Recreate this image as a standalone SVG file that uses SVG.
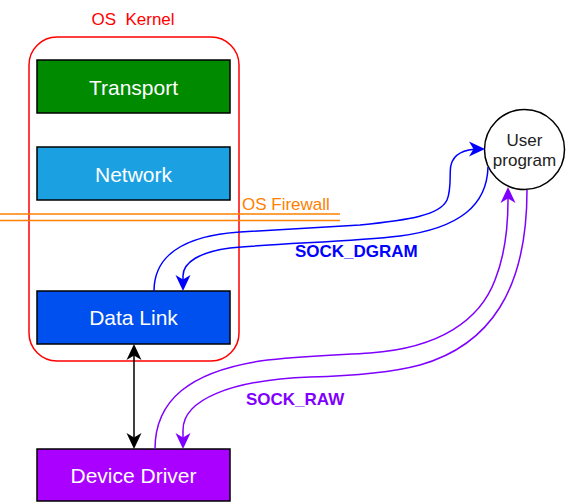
<svg xmlns="http://www.w3.org/2000/svg" width="567" height="503" viewBox="0 0 567 503">
<defs>
<style>
.box{stroke:#000;stroke-width:1.5}
.lbl{font-family:"Liberation Sans",Arial,sans-serif;font-size:21px;fill:#fff;text-anchor:middle}
.txt{font-family:"Liberation Sans",Arial,sans-serif;font-size:17px}
.bold{font-weight:bold}
.edge{fill:none;stroke-width:1.5}
</style>
<marker id="mk" viewBox="0 0 16 16" refX="11" refY="8" markerWidth="16" markerHeight="16" markerUnits="userSpaceOnUse" orient="auto-start-reverse"><path d="M16,8 L0,0.5 L4.5,8 L0,15.5 Z" fill="#000"/></marker>
<marker id="mb" viewBox="0 0 16 16" refX="11" refY="8" markerWidth="16" markerHeight="16" markerUnits="userSpaceOnUse" orient="auto"><path d="M16,8 L0,0.5 L4.5,8 L0,15.5 Z" fill="#0000FF"/></marker>
<marker id="mp" viewBox="0 0 16 16" refX="11" refY="8" markerWidth="16" markerHeight="16" markerUnits="userSpaceOnUse" orient="auto"><path d="M16,8 L0,0.5 L4.5,8 L0,15.5 Z" fill="#7F00FF"/></marker>
</defs>
<rect width="567" height="503" fill="#fff"/>

<g id="kernel">
<rect x="29" y="37" width="210" height="324" rx="28" ry="28" fill="none" stroke="#FF0000" stroke-width="1.5"/>
<text class="txt" x="133" y="25" fill="#FF0000" text-anchor="middle" xml:space="preserve">OS  Kernel</text>
</g>

<g id="firewall">
<line x1="0" y1="214" x2="340" y2="214" stroke="#FF8000" stroke-width="1.5"/>
<line x1="0" y1="220.5" x2="340" y2="220.5" stroke="#FF8000" stroke-width="1.5"/>
<text class="txt" x="242" y="210" fill="#FF8000">OS Firewall</text>
</g>

<g id="transport">
<rect class="box" x="37" y="60" width="193" height="53" fill="#008A00"/>
<text class="lbl" x="133.5" y="94.5">Transport</text>
</g>

<g id="network">
<rect class="box" x="37" y="147" width="193" height="53" fill="#1BA1E2"/>
<text class="lbl" x="133.5" y="181.5">Network</text>
</g>

<g id="datalink">
<rect class="box" x="37" y="291" width="193" height="53" fill="#0050EF"/>
<text class="lbl" x="133.5" y="325">Data Link</text>
</g>

<g id="devicedriver">
<rect class="box" x="37" y="449" width="193" height="52" fill="#AA00FF"/>
<text class="lbl" x="133.5" y="482.5">Device Driver</text>
</g>

<g id="userprogram">
<circle cx="524.5" cy="149.5" r="40" fill="#fff" stroke="#000" stroke-width="1.5"/>
<text class="txt" x="524.5" y="145.5" fill="#222" text-anchor="middle">User</text>
<text class="txt" x="524.5" y="165.5" fill="#222" text-anchor="middle">program</text>
</g>

<g id="connectors">
<path class="edge" stroke="#000" d="M134,349 L134,444" marker-start="url(#mk)" marker-end="url(#mk)"/>
<path class="edge" stroke="#0000FF" d="M154,291 C154,258 180,236 240,232 C290,229 330,227 360,225 C410,220 440,215 447,200 C452,188 449,172 451,165 C454,153 465,149 480,149" marker-end="url(#mb)"/>
<path class="edge" stroke="#0000FF" d="M488,167 C487,205 460,228 400,236 C350,242 280,243 230,248 C200,252 183,262 183,276 L183,286" marker-end="url(#mb)"/>
<path class="edge" stroke="#7F00FF" d="M155,449 C155,400 190,372 260,361 C300,356 340,355 370,353 C440,348 480,320 495,280 C505,255 508,230 508,200 L508,192" marker-end="url(#mp)"/>
<path class="edge" stroke="#7F00FF" d="M527,190 C527,290 490,345 420,365 C390,373 350,376 310,377 C230,380 183,400 183,430 L183,444" marker-end="url(#mp)"/>
<text class="txt bold" x="295" y="257" fill="#0000FF">SOCK_DGRAM</text>
<text class="txt bold" x="246" y="405" fill="#7F00FF">SOCK_RAW</text>
</g>
</svg>
